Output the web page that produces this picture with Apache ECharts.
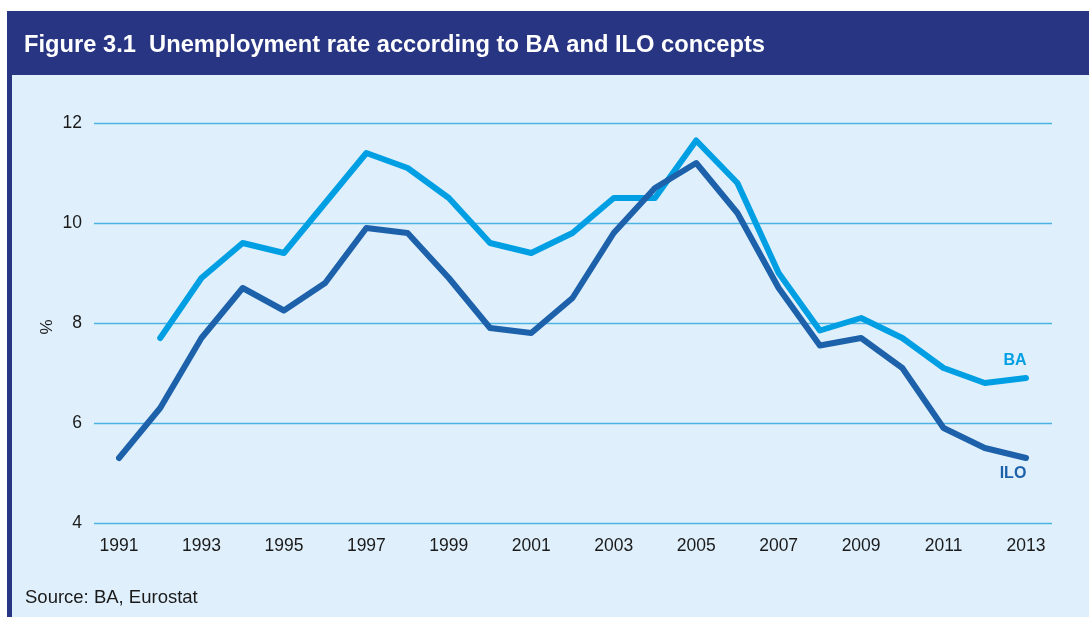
<!DOCTYPE html>
<html>
<head>
<meta charset="utf-8">
<script src="https://cdn.jsdelivr.net/npm/echarts@6/dist/echarts.min.js"></script>
<style>
html,body{margin:0;padding:0;background:#ffffff;}
#chart{width:1089px;height:617px;}
</style>
</head>
<body>
<div id="chart"></div>
<script>
const years = ['1991','1992','1993','1994','1995','1996','1997','1998','1999','2000','2001','2002','2003','2004','2005','2006','2007','2008','2009','2010','2011','2012','2013'];
const baValues = [null,7.7,8.9,9.6,9.4,10.4,11.4,11.1,10.5,9.6,9.4,9.8,10.5,10.5,11.65,10.8,9.0,7.85,8.1,7.7,7.1,6.8,6.9];
const iloValues = [5.3,6.3,7.7,8.7,8.25,8.8,9.9,9.8,8.9,7.9,7.8,8.5,9.8,10.7,11.2,10.2,8.7,7.55,7.7,7.1,5.9,5.5,5.3];
const yTicks = [4,6,8,10,12];

const FONT = '"Liberation Sans", Arial, Helvetica, sans-serif';
const chart = echarts.init(document.getElementById('chart'), null, {renderer:'canvas'});
chart.setOption({
  animation:false,
  backgroundColor:'#ffffff',
  graphic:[
    {type:'rect', shape:{x:7,y:11,width:1082,height:606}, style:{fill:'#283583'}, z:-10},
    {type:'rect', shape:{x:12,y:75,width:1077,height:542}, style:{fill:'#dff0fc'}, z:-9},
    {type:'text', left:24, top:33, style:{text:'Figure 3.1  Unemployment rate according to BA and ILO concepts', fill:'#ffffff', font:'bold 23.7px ' + FONT}},
    {type:'text', left:25, top:588, style:{text:'Source: BA, Eurostat', fill:'#1a1a1a', font:'18.5px ' + FONT}},
    {type:'text', x:47, y:327, rotation:Math.PI/2, style:{text:'%', fill:'#1a1a1a', font:'17px ' + FONT, align:'center', verticalAlign:'middle'}}
  ],
  grid:[
    {left:94, right:37, top:123, bottom:94},
    {left:119, right:63, top:123, bottom:94}
  ],
  xAxis:[
    {gridIndex:0, type:'value', min:0, max:1, show:false},
    {gridIndex:1, type:'category', data:years, boundaryGap:false,
     axisLine:{show:false}, axisTick:{show:false},
     axisLabel:{interval:1, margin:14, color:'#1a1a1a', fontSize:17.5, fontFamily:FONT}}
  ],
  yAxis:[
    {gridIndex:0, type:'value', min:yTicks[0], max:yTicks[yTicks.length-1], interval:2,
     axisLine:{show:false}, axisTick:{show:false},
     axisLabel:{margin:12, color:'#1a1a1a', fontSize:17.5, fontFamily:FONT},
     splitLine:{lineStyle:{color:'#4cb2e2', width:1.3}}},
    {gridIndex:1, type:'value', min:yTicks[0], max:yTicks[yTicks.length-1], show:false, splitLine:{show:false}}
  ],
  series:[
    {name:'BA', type:'line', xAxisIndex:1, yAxisIndex:1, data:baValues, symbol:'none', connectNulls:false,
     lineStyle:{color:'#009fe3', width:6, cap:'round', join:'round'},
     endLabel:{show:true, formatter:'BA', distance:0, align:'center', verticalAlign:'middle', offset:[-11,-17],
       color:'#009fe3', fontWeight:'bold', fontSize:16, fontFamily:FONT}},
    {name:'ILO', type:'line', xAxisIndex:1, yAxisIndex:1, data:iloValues, symbol:'none',
     lineStyle:{color:'#1d61ab', width:6, cap:'round', join:'round'},
     endLabel:{show:true, formatter:'ILO', distance:0, align:'center', verticalAlign:'middle', offset:[-13,16],
       color:'#1d61ab', fontWeight:'bold', fontSize:16, fontFamily:FONT}}
  ]
});
</script>
</body>
</html>
